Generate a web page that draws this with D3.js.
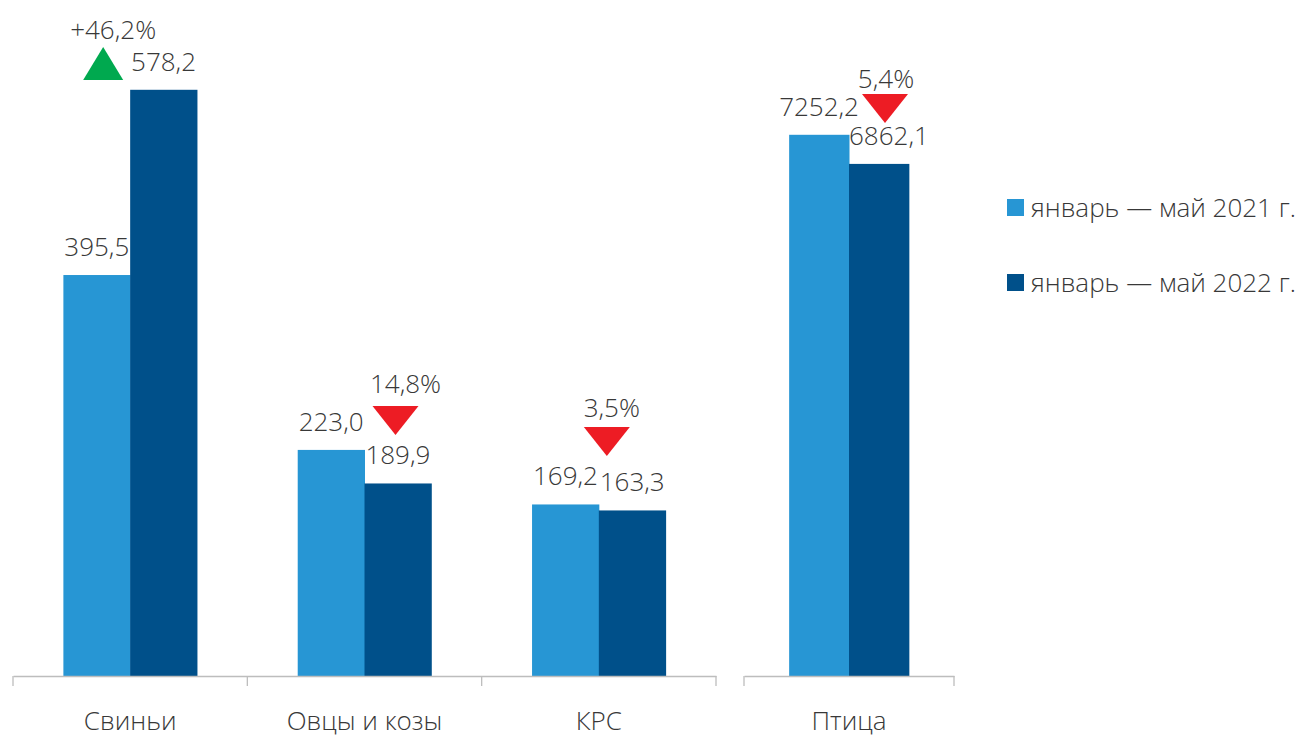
<!DOCTYPE html>
<html>
<head>
<meta charset="utf-8">
<script src="https://cdnjs.cloudflare.com/ajax/libs/d3/7.8.5/d3.min.js"></script>
<style>
  body { margin: 0; background: #fff; }
  text { font-family: "Open Sans", sans-serif; font-weight: 300; fill: #383838; }
</style>
</head>
<body>
<svg id="chart" width="1305" height="737"></svg>
<script>
// data
let categoriesLeft = ["Свиньи", "Овцы и козы", "КРС"];
let categoriesRight = ["Птица"];
let values2021 = { "Свиньи": 395.5, "Овцы и козы": 223.0, "КРС": 169.2, "Птица": 7252.2 };
let values2022 = { "Свиньи": 578.2, "Овцы и козы": 189.9, "КРС": 163.3, "Птица": 6862.1 };
let changeLabels = { "Свиньи": "+46,2%", "Овцы и козы": "14,8%", "КРС": "3,5%", "Птица": "5,4%" };
let changeDir = { "Свиньи": "up", "Овцы и козы": "down", "КРС": "down", "Птица": "down" };
let seriesNames = ["январь — май 2021 г.", "январь — май 2022 г."];

let colors = ["#2796d4", "#00508a"];
let fmt = v => d3.format(".1f")(v).replace(".", ",");
let fontSize = "26px";

let svg = d3.select("#chart");
let baseY = 676;

// two panels, each with its own value scale
let panels = [
  { cats: categoriesLeft, x0: 13, x1: 716, max: 650, top: 17 },
  { cats: categoriesRight, x0: 744, x1: 954, max: 8040, top: 76 }
];
let groupShare = 0.57;

// placement of the change markers (relative to group centre)
let markerLayout = {
  "Свиньи": { dx: -27, top: 47, textDx: 10, textDy: -8 },
  "Овцы и козы": { dx: 31, top: 406, textDx: 10, textDy: -13 },
  "КРС": { dx: 8, top: 427, textDx: 5, textDy: -10 },
  "Птица": { dx: 36, top: 94, textDx: 1, textDy: -6 }
};
let labelShift = { "Птица": [0, 10] };

panels.forEach(function(p) {
  let x = d3.scaleBand()
    .domain(p.cats)
    .range([p.x0, p.x1]);

  let xSub = d3.scaleBand()
    .domain([0, 1])
    .range([0, x.bandwidth() * groupShare]);

  let y = d3.scaleLinear()
    .domain([0, p.max])
    .range([baseY, p.top]);

  let g = svg.append("g");

  p.cats.forEach(function(c) {
    let gx = x(c) + x.bandwidth() * (1 - groupShare) / 2;
    let vals = [values2021[c], values2022[c]];
    let shift = labelShift[c] || [0, 0];

    g.selectAll(null)
      .data(vals)
      .join("rect")
      .attr("x", (d, i) => gx + xSub(i))
      .attr("y", d => y(d))
      .attr("width", xSub.bandwidth() + 0.5)
      .attr("height", d => baseY - y(d))
      .attr("fill", (d, i) => colors[i]);

    g.selectAll(null)
      .data(vals)
      .join("text")
      .attr("x", (d, i) => gx + xSub(i) + xSub.bandwidth() / 2 + shift[i])
      .attr("y", d => y(d) - 19)
      .attr("text-anchor", "middle")
      .style("font-size", fontSize)
      .text(d => fmt(d));

    // change marker
    let m = markerLayout[c];
    let cx = x(c) + x.bandwidth() / 2 + m.dx;
    let up = changeDir[c] === "up";
    let w = up ? 40 : 46, h = up ? 33 : 29;
    let pts = up
      ? [[cx, m.top], [cx + w / 2, m.top + h], [cx - w / 2, m.top + h]]
      : [[cx - w / 2, m.top], [cx + w / 2, m.top], [cx, m.top + h]];
    g.append("path")
      .attr("d", d3.line()(pts) + "Z")
      .attr("fill", up ? "#00a94f" : "#ed1c24");

    g.append("text")
      .attr("x", cx + m.textDx)
      .attr("y", m.top + m.textDy)
      .attr("text-anchor", "middle")
      .style("font-size", fontSize)
      .text(changeLabels[c]);
  });

  // axis
  let ag = g.append("g")
    .attr("transform", `translate(0, ${baseY})`)
    .call(d3.axisBottom(x).tickSize(0).tickPadding(0));
  ag.select(".domain").attr("stroke", "#bdbdbd").attr("stroke-width", 1.3);
  ag.selectAll(".tick text")
    .attr("y", 54)
    .attr("dy", 0)
    .style("font-size", fontSize)
    .style("font-family", "'Open Sans', sans-serif")
    .style("font-weight", 300)
    .attr("fill", "#383838");

  // boundary ticks between categories
  let bounds = p.cats.map(c => x(c)).concat([p.x1]);
  g.selectAll(null)
    .data(bounds)
    .join("line")
    .attr("x1", d => d).attr("x2", d => d)
    .attr("y1", baseY).attr("y2", baseY + 10)
    .attr("stroke", "#bdbdbd")
    .attr("stroke-width", 1.3);
});

// legend
let legend = svg.append("g").attr("transform", "translate(1007, 199)");
legend.selectAll("rect")
  .data(seriesNames)
  .join("rect")
  .attr("x", 0)
  .attr("y", (d, i) => i * 75)
  .attr("width", 17)
  .attr("height", 17)
  .attr("fill", (d, i) => colors[i]);
legend.selectAll("text")
  .data(seriesNames)
  .join("text")
  .attr("x", 24)
  .attr("y", (d, i) => i * 75 + 18)
  .style("font-size", fontSize)
  .text(d => d);
</script>
</body>
</html>
